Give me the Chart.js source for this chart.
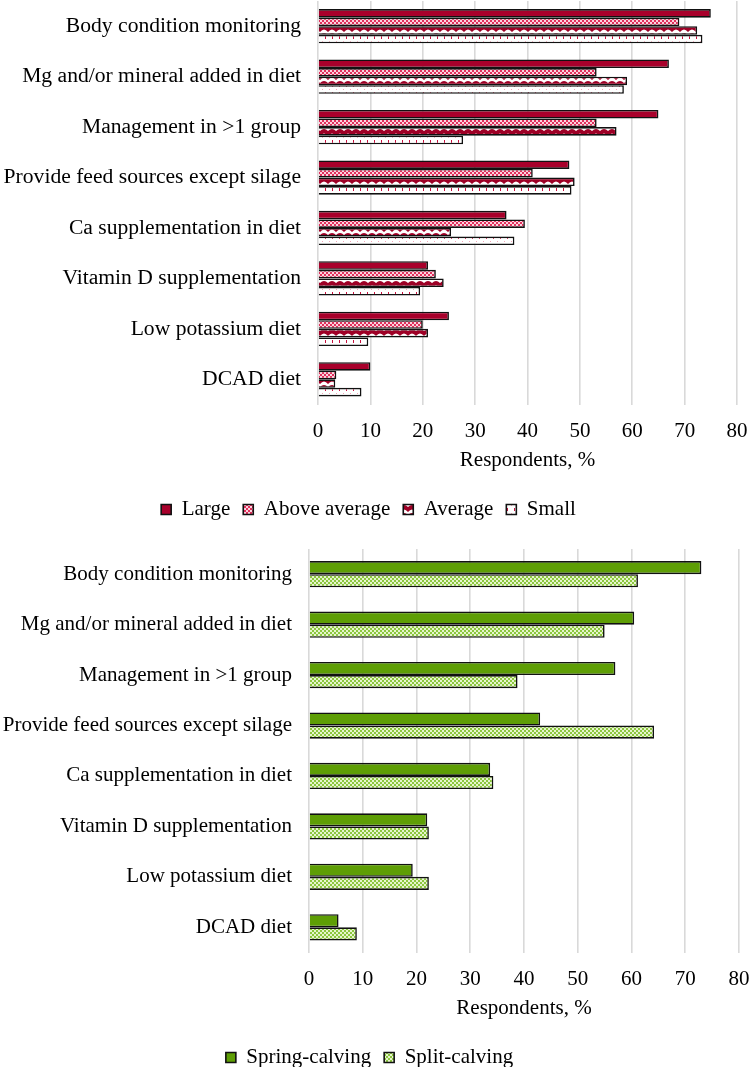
<!DOCTYPE html>
<html><head><meta charset="utf-8">
<script src="https://cdn.jsdelivr.net/npm/chart.js@4.4.1/dist/chart.umd.min.js"></script>
<style>
html,body{margin:0;padding:0;background:#fff;overflow:hidden;width:750px;height:1067px}
.box{position:absolute;left:0;width:750px}
#w1{top:0;height:530px}
#w2{top:548px;height:530px}
</style></head><body>
<div class="box" id="w1"><canvas id="c1"></canvas></div>
<div class="box" id="w2"><canvas id="c2"></canvas></div>
<script>
const categories = [
  "Body condition monitoring",
  "Mg and/or mineral added in diet",
  "Management in >1 group",
  "Provide feed sources except silage",
  "Ca supplementation in diet",
  "Vitamin D supplementation",
  "Low potassium diet",
  "DCAD diet"
];
const large        = [75, 67, 65, 48, 36, 21, 25, 10];
const aboveAverage = [69, 53.2, 53.2, 41, 39.5, 22.5, 20, 3.5];
const average      = [72.4, 59, 57, 49, 25.4, 24, 21, 3.3];
const small        = [73.4, 58.4, 27.7, 48.4, 37.5, 19.5, 9.6, 8.3];
const springCalving = [73, 60.5, 57, 43, 33.7, 22, 19.3, 5.5];
const splitCalving  = [61.2, 55, 38.8, 64.2, 34.3, 22.3, 22.3, 8.9];
const xTickLabels = ["0","10","20","30","40","50","60","70","80"];
const axisTitle = "Respondents, %";

const FONT = "'Liberation Serif','Times New Roman',serif";
const RED = '#A8002B';
const GREEN = '#5E9E05';

function pattern(ctx, w, h, draw){
  const c = document.createElement('canvas'); c.width = w; c.height = h;
  const g = c.getContext('2d'); draw(g); return ctx.createPattern(c, 'repeat');
}

function buildChart(id, datasets, cfg){
  return new Chart(document.getElementById(id), {
    type: 'bar',
    data: { labels: categories, datasets },
    options: {
      indexAxis: 'y',
      responsive: true,
      maintainAspectRatio: false,
      animation: false,
      layout: { padding: { top: 1, right: cfg.right, left: 0, bottom: 0 } },
      datasets: { bar: { categoryPercentage: cfg.catPct, barPercentage: 1.0 } },
      scales: {
        x: {
          min: 0, max: 80,
          afterFit: s => { s.height = 81.5; s.paddingLeft = 0; s.paddingRight = 0; },
          ticks: { stepSize: 10, padding: 14, color: '#000', font: { family: FONT, size: 21 },
                   callback: (v, i) => xTickLabels[i] },
          grid: { color: '#d9d9d9', lineWidth: 1.6, drawTicks: false },
          border: { display: false },
          title: { display: true, text: axisTitle, color: '#000', font: { family: FONT, size: 21 },
                   padding: { top: 0, bottom: 13 } }
        },
        y: {
          afterFit: s => { s.width = cfg.yWidth; s.paddingTop = 0; s.paddingBottom = 0; },
          ticks: { color: '#000', padding: 17, font: { family: FONT, size: cfg.labelSize } },
          grid: { display: false, drawTicks: false },
          border: { display: false }
        }
      },
      plugins: {
        legend: {
          position: 'bottom',
          labels: { color: '#000', boxWidth: 10, boxHeight: 10, padding: 13, font: { family: FONT, size: 21 } }
        },
        tooltip: { enabled: false }
      }
    }
  });
}

const ctx1 = document.getElementById('c1').getContext('2d');
const patAbove = pattern(ctx1, 4, 4, g => {
  g.fillStyle = '#E0305C'; g.fillRect(0,0,4,4);
  g.fillStyle = '#FBD3DE'; g.fillRect(0,0,2,2); g.fillRect(2,2,2,2);
});
const patAverage = pattern(ctx1, 8, 8, g => {
  g.fillStyle = '#ffffff'; g.fillRect(0,0,8,8);
  g.fillStyle = '#9E0026';
  g.beginPath(); g.moveTo(0,8); g.lineTo(0,3); g.quadraticCurveTo(4,-1,8,3); g.lineTo(8,8);
  g.quadraticCurveTo(4,3,0,8); g.closePath(); g.fill();
});
const patSmall = pattern(ctx1, 7, 8, g => {
  g.fillStyle = '#ffffff'; g.fillRect(0,0,7,8);
  g.fillStyle = '#C8103E'; g.fillRect(3,4,1,3);
  g.fillStyle = '#F2A6B9'; g.fillRect(0,1,1,1);
});
const ctx2 = document.getElementById('c2').getContext('2d');
const patSplit = pattern(ctx2, 4, 4, g => {
  g.fillStyle = '#8CC63F'; g.fillRect(0,0,4,4);
  g.fillStyle = '#E6F5CC'; g.fillRect(0,0,2,2); g.fillRect(2,2,2,2);
});

const bw = 1.6, bc = '#111111';
buildChart('c1', [
  { label: 'Large', data: large, backgroundColor: RED, borderColor: bc, borderWidth: bw },
  { label: 'Above average', data: aboveAverage, backgroundColor: patAbove, borderColor: bc, borderWidth: bw },
  { label: 'Average', data: average, backgroundColor: patAverage, borderColor: bc, borderWidth: bw },
  { label: 'Small', data: small, backgroundColor: patSmall, borderColor: bc, borderWidth: bw }
], { catPct: 0.68, yWidth: 318, right: 13, labelSize: 21.6 });

buildChart('c2', [
  { label: 'Spring-calving', data: springCalving, backgroundColor: GREEN, borderColor: bc, borderWidth: bw },
  { label: 'Split-calving', data: splitCalving, backgroundColor: patSplit, borderColor: bc, borderWidth: bw }
], { catPct: 0.52, yWidth: 309, right: 11, labelSize: 21 });
</script>
</body></html>
